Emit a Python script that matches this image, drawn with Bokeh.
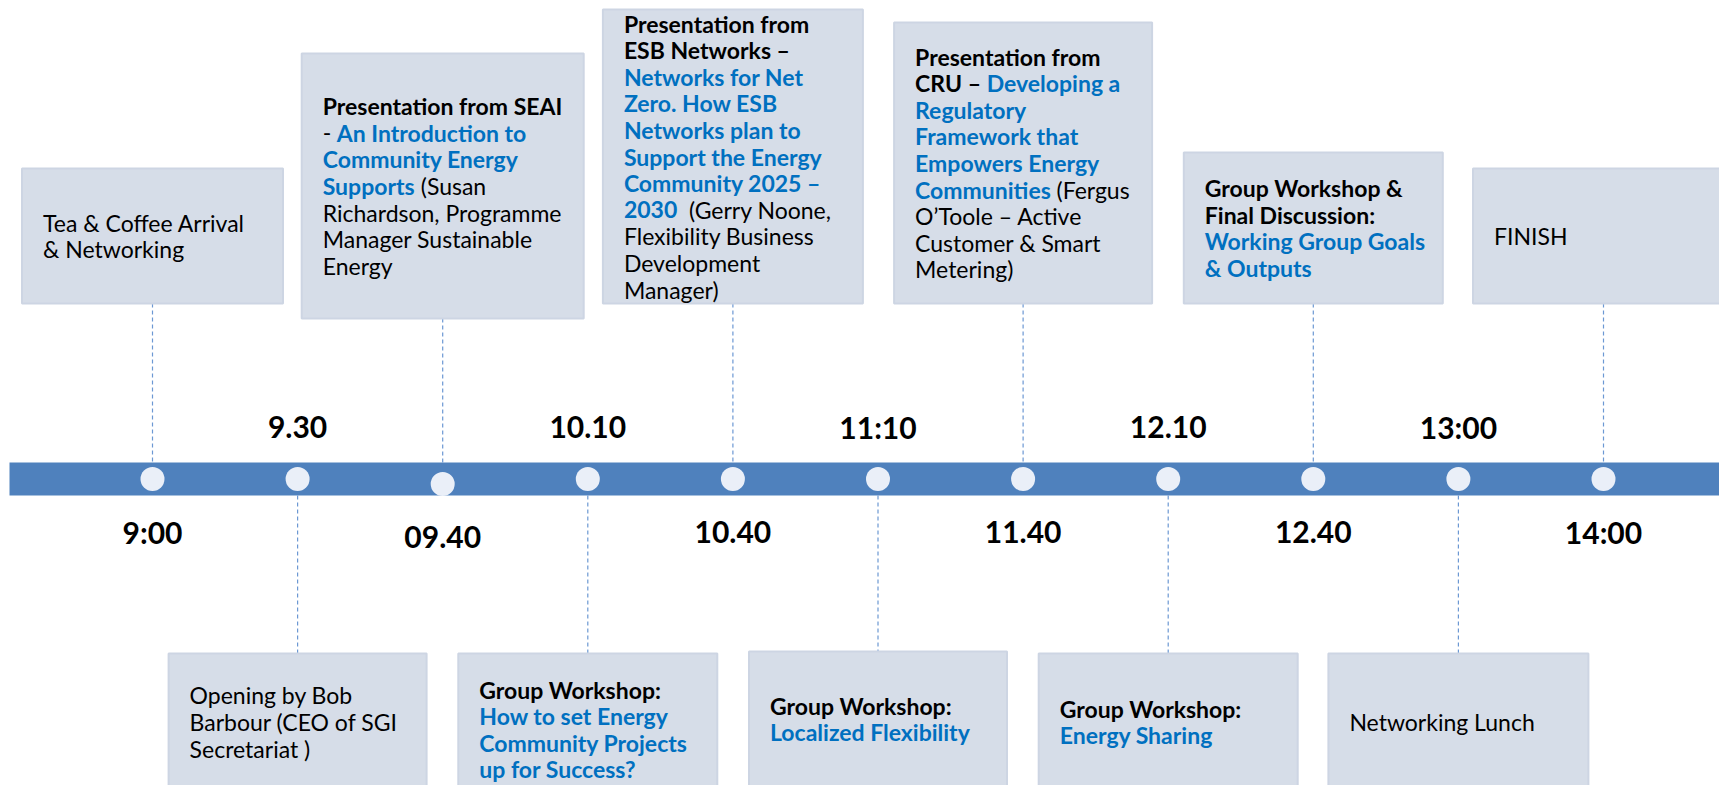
import os
import glob
import struct
import subprocess

from bokeh.plotting import figure
from bokeh.models import Range1d, ColumnDataSource
from bokeh.core.properties import value
from bokeh.embed import file_html
from bokeh.resources import INLINE

# ---------------- data ----------------
times = ["9:00", "9.30", "09.40", "10.10", "10.40", "11:10",
         "11.40", "12.10", "12.40", "13:00", "14:00"]

# segment styles: "r" = black regular, "b" = black bold, "B" = blue bold
tea = [[("r", "Tea & Coffee Arrival")], [("r", "& Networking")]]
opening = [[("r", "Opening by Bob")], [("r", "Barbour (CEO of SGI")],
           [("r", "Secretariat )")]]
seai = [[("b", "Presentation from SEAI")],
        [("r", "-"), ("B", " An Introduction to")],
        [("B", "Community Energy")],
        [("B", "Supports"), ("r", " (Susan")],
        [("r", "Richardson, Programme")],
        [("r", "Manager Sustainable")],
        [("r", "Energy")]]
how = [[("b", "Group Workshop:")],
       [("B", "How to set Energy")],
       [("B", "Community Projects")],
       [("B", "up for Success?")]]
esb = [[("b", "Presentation from")],
       [("b", "ESB Networks –")],
       [("B", "Networks for Net")],
       [("B", "Zero. How ESB")],
       [("B", "Networks plan to")],
       [("B", "Support the Energy")],
       [("B", "Community 2025 –")],
       [("B", "2030"), ("r", "  (Gerry Noone,")],
       [("r", "Flexibility Business")],
       [("r", "Development")],
       [("r", "Manager)")]]
localized = [[("b", "Group Workshop:")], [("B", "Localized Flexibility")]]
cru = [[("b", "Presentation from")],
       [("b", "CRU –"), ("B", " Developing a")],
       [("B", "Regulatory")],
       [("B", "Framework that")],
       [("B", "Empowers Energy")],
       [("B", "Communities"), ("r", " (Fergus")],
       [("r", "O’Toole – Active")],
       [("r", "Customer & Smart")],
       [("r", "Metering)")]]
sharing = [[("b", "Group Workshop:")], [("B", "Energy Sharing")]]
final = [[("b", "Group Workshop &")], [("b", "Final Discussion:")],
         [("B", "Working Group Goals")], [("B", "& Outputs")]]
lunch = [[("r", "Networking Lunch")]]
finish = [[("r", "FINISH")]]

events = [tea, opening, seai, how, esb, localized, cru, sharing, final, lunch, finish]

# ---------------- layout (pixels) ----------------
W, H = 1719, 785
PX_PER_SLOT = 145.1
FIRST_X = 152
BAR_TOP, BAR_BOT = 462, 495
BAR_LEFT = 9
box_top = [168, 653, 53, 653, 9, 651, 22, 653, 152, 653, 168]
box_bot = [303, 790, 318, 805, 303, 786, 303, 790, 303, 790, 303]
box_w = [261, 258, 282, 259, 260, 258, 258, 259, 259, 260, 261]
circle_dy = [0, 0, 5, 0, 0, 0, 0, 0, 0, 0, 0]
label_dy = [0, 0, 5, 0, 0, 0, 0, 0, 0, 0, 0]
LABEL_GAP = 36
PAD = 21
LINE_H = 26.6
FONT = "Lato"
BOX_FS = 23
TIME_FS = 30

BAR_COLOR = "#4F81BD"
DOT_COLOR = "#EAEFF8"
BOX_FILL = "#D6DDE8"
BOX_LINE = "#CDD5E3"
BLUE = "#0070C0"
DASH_COLOR = "#6C98D3"


# ---------------- font metrics for positioning mixed-style runs ----------------
def find_font(family, bold):
    style = "Bold" if bold else "Regular"
    try:
        out = subprocess.run(["fc-match", "-f", "%{file}", f"{family}:style={style}"],
                             capture_output=True, text=True, timeout=5).stdout.strip()
        if out and os.path.exists(out) and family.lower() in os.path.basename(out).lower():
            return out
    except Exception:
        pass
    for pat in (f"/usr/share/fonts/**/{family}-{style}.ttf",
                f"/usr/share/fonts/**/{family}-{style}.otf",
                f"/usr/local/share/fonts/**/{family}-{style}.ttf"):
        c = glob.glob(pat, recursive=True)
        if c:
            return c[0]
    return None


class Metrics:
    def __init__(self, path):
        d = open(path, "rb").read()
        self.d = d
        nt = struct.unpack(">H", d[4:6])[0]
        t = {}
        for i in range(nt):
            tag, _, off, ln = struct.unpack(">4sIII", d[12 + 16 * i:28 + 16 * i])
            t[tag.decode("latin1")] = off
        self.upem = struct.unpack(">H", d[t["head"] + 18:t["head"] + 20])[0]
        nhm = struct.unpack(">H", d[t["hhea"] + 34:t["hhea"] + 36])[0]
        hm = t["hmtx"]
        self.adv = [struct.unpack(">H", d[hm + 4 * i:hm + 4 * i + 2])[0] for i in range(nhm)]
        cm = t["cmap"]
        n = struct.unpack(">H", d[cm + 2:cm + 4])[0]
        self.sub = None
        for i in range(n):
            pid, eid, off = struct.unpack(">HHI", d[cm + 4 + 8 * i:cm + 12 + 8 * i])
            fmt = struct.unpack(">H", d[cm + off:cm + off + 2])[0]
            if fmt == 4 and pid in (0, 3):
                self.sub = cm + off
                break
        o = self.sub
        sx2 = struct.unpack(">H", d[o + 6:o + 8])[0]
        self.seg = sx2 // 2
        self.ends = struct.unpack(f">{self.seg}H", d[o + 14:o + 14 + sx2])
        self.starts = struct.unpack(f">{self.seg}H", d[o + 16 + sx2:o + 16 + 2 * sx2])
        self.deltas = struct.unpack(f">{self.seg}h", d[o + 16 + 2 * sx2:o + 16 + 3 * sx2])
        self.rpos = o + 16 + 3 * sx2
        self.roffs = struct.unpack(f">{self.seg}H", d[self.rpos:self.rpos + sx2])

    def gid(self, ch):
        c = ord(ch)
        for k in range(self.seg):
            if self.ends[k] >= c:
                if self.starts[k] > c:
                    return 0
                if self.roffs[k] == 0:
                    return (c + self.deltas[k]) & 0xFFFF
                a = self.rpos + 2 * k + self.roffs[k] + 2 * (c - self.starts[k])
                g = struct.unpack(">H", self.d[a:a + 2])[0]
                return (g + self.deltas[k]) & 0xFFFF if g else 0
        return 0

    def width(self, s, size):
        tot = 0
        for ch in s:
            g = self.gid(ch)
            tot += self.adv[min(g, len(self.adv) - 1)]
        return tot * size / self.upem


_metrics = {}


def text_width(s, bold, size):
    if bold not in _metrics:
        try:
            path = find_font(FONT, bold)
            _metrics[bold] = Metrics(path) if path else None
        except Exception:
            _metrics[bold] = None
    m = _metrics[bold]
    if m is None:
        return len(s) * size * (0.54 if bold else 0.5)
    return m.width(s, size)


# ---------------- figure ----------------
# figure pixel (0,0) corresponds to reference pixel (0,0)
s0 = -FIRST_X / PX_PER_SLOT
s1 = s0 + W / PX_PER_SLOT
p = figure(width=W, height=H, x_range=Range1d(s0, s1), y_range=Range1d(H, 0),
           output_backend="svg", toolbar_location=None,
           x_axis_location=None, y_axis_location=None, min_border=0)
p.grid.visible = False
p.outline_line_color = None
p.background_fill_color = "white"
p.border_fill_color = "white"

idx = list(range(len(times)))
above = [i % 2 == 0 for i in idx]

# timeline bar
p.quad(left=[-(FIRST_X - BAR_LEFT) / PX_PER_SLOT], right=[s1 + 1],
       top=[BAR_TOP], bottom=[BAR_BOT], fill_color=BAR_COLOR, line_color=None)

# connectors
seg_y0 = [box_bot[i] if above[i] else BAR_BOT for i in idx]
seg_y1 = [BAR_TOP if above[i] else box_top[i] for i in idx]
p.segment(x0=idx, y0=seg_y0, x1=idx, y1=seg_y1, line_color=DASH_COLOR,
          line_width=1.2, line_dash="4 3")

# event boxes
half = [box_w[i] / 2 / PX_PER_SLOT for i in idx]
p.quad(left=[i - half[i] for i in idx], right=[i + half[i] for i in idx],
       top=box_top, bottom=box_bot, fill_color=BOX_FILL, line_color=BOX_LINE,
       line_width=2)

# dots
bar_mid = (BAR_TOP + BAR_BOT) / 2
p.scatter(x=idx, y=[bar_mid + circle_dy[i] for i in idx], size=24, marker="circle",
          fill_color=DOT_COLOR, line_color=None)

# time labels
ly = [(BAR_BOT + LABEL_GAP if above[i] else BAR_TOP - LABEL_GAP) + label_dy[i] for i in idx]
p.text(x=idx, y=ly, text=times, text_font=value(FONT), text_font_style="bold",
       text_font_size=f"{TIME_FS}px", text_align="center", text_baseline="middle",
       text_color="black")

# event texts (mixed-style runs)
runs = {"r": dict(x=[], y=[], t=[], xo=[]), "b": dict(x=[], y=[], t=[], xo=[]),
        "B": dict(x=[], y=[], t=[], xo=[])}
for i, lines in enumerate(events):
    n = len(lines)
    cy = (box_top[i] + box_bot[i]) / 2
    left = i - half[i]
    for k, line in enumerate(lines):
        y = cy + (k - (n - 1) / 2) * LINE_H
        off = PAD
        for style, s in line:
            bold = style != "r"
            lead = len(s) - len(s.lstrip(" "))
            off += text_width(" " * lead, bold, BOX_FS)
            txt = s.strip(" ")
            r = runs[style]
            r["x"].append(left)
            r["y"].append(y)
            r["t"].append(txt)
            r["xo"].append(off)
            off += text_width(txt, bold, BOX_FS)

for style, r in runs.items():
    src = ColumnDataSource(dict(x=r["x"], y=r["y"], text=r["t"], xo=r["xo"]))
    p.text(x="x", y="y", text="text", x_offset="xo", source=src,
           text_font=value(FONT), text_font_size=f"{BOX_FS}px",
           text_font_style="normal" if style == "r" else "bold",
           text_color=BLUE if style == "B" else "black",
           text_align="left", text_baseline="middle")

open("out.html", "w").write(file_html(p, INLINE))
